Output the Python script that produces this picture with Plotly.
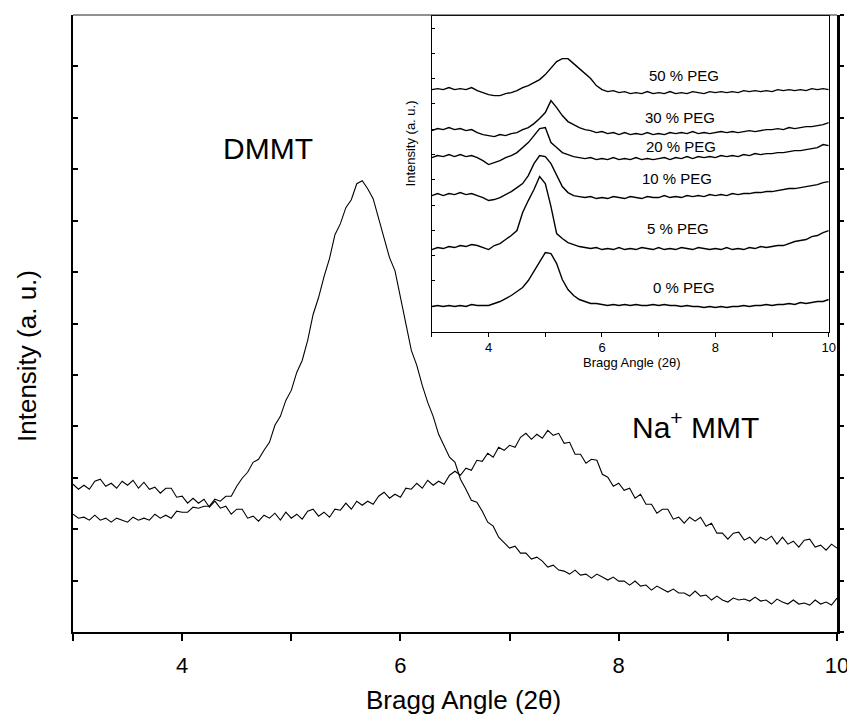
import plotly.graph_objects as go

# ---------------- main panel data (2theta, intensity a.u.) ----------------
main_x = [round(3.0 + 0.05 * i, 2) for i in range(141)]

dmmt_int = [118, 114, 115, 112, 117, 112, 114, 110, 114, 112,
            110, 115, 112, 114, 112, 118, 114, 117, 114, 121,
            120, 120, 125, 124, 126, 126, 133, 131, 136, 136,
            146, 154, 160, 170, 173, 182, 190, 207, 216, 232,
            242, 260, 272, 292, 318, 335, 356, 374, 398, 409,
            425, 433, 449, 452, 444, 434, 414, 396, 375, 362,
            336, 311, 282, 267, 247, 230, 216, 198, 187, 175,
            170, 153, 143, 132, 130, 121, 110, 106, 95, 90,
            84, 86, 79, 79, 73, 75, 71, 65, 67, 62,
            61, 58, 62, 57, 58, 54, 58, 55, 52, 55,
            51, 51, 47, 51, 46, 47, 42, 46, 43, 40,
            43, 39, 39, 36, 41, 36, 37, 32, 36, 32,
            30, 34, 32, 33, 31, 35, 31, 32, 28, 33,
            30, 28, 32, 28, 29, 27, 32, 28, 30, 27,
            34]

na_mmt_int = [148, 143, 147, 143, 151, 153, 146, 149, 144, 151,
              147, 152, 144, 150, 143, 145, 139, 144, 144, 135,
              136, 129, 134, 129, 133, 125, 131, 124, 126, 118,
              123, 123, 114, 116, 111, 117, 114, 119, 112, 120,
              114, 118, 113, 121, 123, 116, 120, 115, 123, 122,
              129, 123, 131, 127, 131, 128, 136, 140, 134, 138,
              135, 144, 143, 149, 144, 152, 147, 151, 148, 157,
              161, 157, 164, 162, 172, 171, 179, 175, 185, 182,
              187, 185, 195, 199, 193, 198, 194, 202, 197, 199,
              189, 190, 178, 178, 169, 173, 172, 158, 155, 146,
              149, 142, 144, 134, 138, 128, 128, 119, 123, 123,
              113, 115, 109, 115, 111, 115, 106, 109, 99, 99,
              93, 99, 100, 92, 95, 89, 95, 92, 96, 88,
              95, 88, 91, 85, 92, 93, 85, 87, 82, 88,
              84]

# ---------------- inset data ----------------
inset_x = [round(3.0 + 0.1 * i, 1) for i in range(71)]

peg0 = [25, 26, 25, 26, 25, 26, 25, 27, 26, 26,
        26, 28, 30, 33, 36, 40, 44, 51, 60, 70,
        79, 78, 68, 52, 42, 36, 32, 30, 28, 28,
        27, 26, 27, 26, 27, 26, 27, 26, 26, 27,
        26, 27, 26, 26, 25, 26, 25, 25, 24, 25,
        24, 25, 24, 25, 25, 26, 25, 26, 26, 27,
        26, 27, 27, 28, 27, 29, 28, 29, 30, 30,
        32]
peg5 = [82, 84, 83, 85, 84, 86, 85, 87, 86, 84,
        82, 86, 88, 92, 96, 101, 119, 131, 142, 155,
        148, 125, 98, 93, 89, 87, 85, 84, 83, 84,
        82, 83, 82, 84, 82, 83, 82, 84, 83, 82,
        84, 82, 83, 82, 84, 83, 82, 84, 83, 82,
        83, 82, 84, 82, 83, 82, 84, 83, 85, 84,
        85, 86, 86, 88, 90, 91, 92, 95, 96, 99,
        101]
peg10 = [136, 138, 136, 138, 137, 139, 137, 138, 136, 134,
         131, 132, 134, 137, 140, 144, 148, 156, 168, 176,
         175, 168, 156, 145, 139, 136, 135, 134, 135, 133,
         134, 133, 135, 134, 133, 135, 134, 133, 135, 134,
         134, 136, 134, 135, 134, 136, 135, 136, 135, 137,
         136, 137, 136, 138, 137, 138, 138, 139, 139, 140,
         140, 141, 142, 143, 143, 144, 145, 146, 147, 149,
         150]
peg20 = [174, 176, 175, 177, 175, 177, 175, 176, 174, 171,
         167, 169, 171, 174, 176, 179, 184, 189, 196, 203,
         204, 189, 184, 179, 177, 175, 174, 173, 174, 172,
         173, 172, 174, 172, 173, 172, 174, 172, 173, 172,
         173, 174, 172, 174, 173, 175, 173, 175, 174, 175,
         174, 176, 175, 176, 175, 177, 176, 178, 177, 178,
         178, 179, 179, 180, 181, 181, 182, 183, 184, 187,
         186]
peg30 = [201, 203, 202, 204, 202, 203, 201, 202, 199, 197,
         196, 195, 197, 196, 198, 199, 202, 204, 208, 213,
         219, 231, 224, 216, 210, 207, 204, 202, 201, 199,
         200, 198, 199, 197, 199, 197, 198, 197, 199, 197,
         198, 197, 199, 198, 199, 198, 200, 198, 199, 198,
         199, 200, 199, 200, 199, 200, 201, 200, 201, 202,
         202, 203, 202, 204, 203, 204, 205, 205, 206, 207,
         209]
peg50 = [242, 243, 242, 244, 242, 243, 242, 244, 241, 239,
         237, 236, 236, 238, 239, 241, 244, 246, 249, 252,
         257, 263, 270, 273, 273, 268, 263, 258, 253, 246,
         242, 240, 241, 239, 240, 238, 239, 238, 240, 238,
         239, 238, 240, 238, 239, 238, 240, 239, 238, 240,
         239, 240, 239, 240, 239, 241, 240, 241, 240, 241,
         240, 242, 241, 242, 241, 242, 241, 243, 242, 243,
         242]

inset_series = [peg0, peg5, peg10, peg20, peg30, peg50]
inset_labels = ["0 % PEG", "5 % PEG", "10 % PEG", "20 % PEG", "30 % PEG", "50 % PEG"]
inset_label_x = [7.44, 7.34, 7.32, 7.39, 7.37, 7.44]
inset_label_y = [44, 103, 153, 185, 214, 256]

major_ticks = [4, 6, 8, 10]
minor_ticks = [3, 5, 7, 9]

FONT = "Liberation Sans, Arial, sans-serif"

fig = go.Figure()

fig.add_trace(go.Scatter(x=main_x, y=dmmt_int, mode="lines", name="DMMT",
                         line=dict(color="black", width=1.1), hoverinfo="skip"))
fig.add_trace(go.Scatter(x=main_x, y=na_mmt_int, mode="lines", name="Na+ MMT",
                         line=dict(color="black", width=1.1), hoverinfo="skip"))
# invisible trace to activate the right-hand axis
fig.add_trace(go.Scatter(x=[3], y=[0], mode="markers", marker=dict(size=1, opacity=0),
                         yaxis="y2", hoverinfo="skip", showlegend=False))

for ys in inset_series:
    fig.add_trace(go.Scatter(x=inset_x, y=ys, mode="lines", xaxis="x3", yaxis="y3",
                             line=dict(color="black", width=1.4), hoverinfo="skip"))

fig.update_layout(
    width=847, height=717,
    margin=dict(l=65, r=15, t=6, b=93),
    paper_bgcolor="white", plot_bgcolor="white",
    showlegend=False,
    font=dict(family=FONT, color="black"),
    xaxis=dict(range=[3, 10], domain=[0, 1], tickmode="array", tickvals=major_ticks,
               ticks="outside", ticklen=7, tickwidth=2, tickcolor="black",
               minor=dict(tickmode="array", tickvals=minor_ticks, ticks="outside",
                          ticklen=7, tickwidth=2, tickcolor="black"),
               showline=True, linewidth=2, linecolor="black",
               showgrid=False, zeroline=False, tickfont=dict(size=22),
               ticklabelstandoff=6),
    yaxis=dict(range=[0, 618], domain=[0, 1], tickmode="linear", tick0=0, dtick=51.5,
               ticks="inside", ticklen=5, tickwidth=1.5, tickcolor="black",
               showticklabels=False, showline=True, linewidth=2, linecolor="black",
               showgrid=False, zeroline=False),
    yaxis2=dict(range=[0, 618], overlaying="y", side="right", tickmode="linear",
                tick0=0, dtick=51.5, ticks="outside", ticklen=4, tickwidth=1.5,
                tickcolor="black", showticklabels=False, showline=True, linewidth=2.5,
                linecolor="black", showgrid=False, zeroline=False),
    xaxis3=dict(range=[3, 10], domain=[0.4698, 0.9892], anchor="y3", tickmode="array",
                tickvals=major_ticks, ticks="outside", ticklen=4,
                tickwidth=1, tickcolor="black",
                minor=dict(tickmode="array", tickvals=minor_ticks, ticks="outside",
                           ticklen=4, tickwidth=1, tickcolor="black"),
                showline=True, mirror=True,
                linewidth=1.2, linecolor="black", showgrid=False, zeroline=False,
                tickfont=dict(size=13)),
    yaxis3=dict(range=[0, 316], domain=[0.487, 0.999], anchor="x3", tickmode="linear",
                tick0=0, dtick=25.3, ticks="inside", ticklen=3, tickwidth=1,
                tickcolor="black", showticklabels=False, showline=True, mirror=True,
                linewidth=1.2, linecolor="black", showgrid=False, zeroline=False),
)

# thin top frame line of the main panel
fig.add_shape(type="line", xref="paper", yref="paper", x0=0, x1=1, y0=1, y1=1,
              line=dict(color="#222", width=1))

annotations = [
    dict(text="Bragg Angle (2θ)", xref="paper", yref="paper", x=0.511, y=-0.110,
         showarrow=False, font=dict(size=26), xanchor="center", yanchor="middle"),
    dict(text="Intensity (a. u.)", xref="paper", yref="paper", x=-0.061, y=0.448,
         showarrow=False, font=dict(size=26), textangle=-90, xanchor="center",
         yanchor="middle"),
    dict(text="DMMT", xref="x", yref="y", x=4.79, y=484, showarrow=False,
         font=dict(size=30), xanchor="center", yanchor="middle"),
    dict(text="Na<sup>+</sup> MMT", xref="x", yref="y", x=8.70, y=207, showarrow=False,
         font=dict(size=30), xanchor="center", yanchor="middle"),
    dict(text="Bragg Angle (2θ)", xref="paper", yref="paper", x=(634 - 73) / 767,
         y=(632 - 362) / 618, showarrow=False, font=dict(size=13), xanchor="center",
         yanchor="middle"),
    dict(text="Intensity (a. u.)", xref="paper", yref="paper", x=(412 - 73) / 767,
         y=(632 - 143) / 618, showarrow=False, font=dict(size=13), textangle=-90,
         xanchor="center", yanchor="middle"),
]
for lab, lx, ly in zip(inset_labels, inset_label_x, inset_label_y):
    annotations.append(dict(text=lab, xref="x3", yref="y3", x=lx, y=ly, showarrow=False,
                            font=dict(size=15), xanchor="center", yanchor="middle"))
fig.update_layout(annotations=annotations)

fig.write_html("out.html")
